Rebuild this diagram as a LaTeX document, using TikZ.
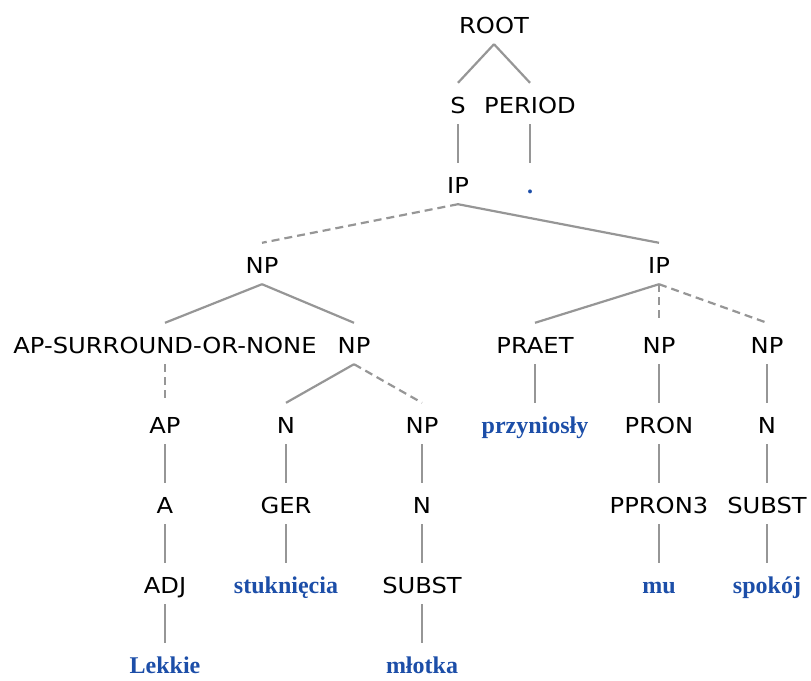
\documentclass[tikz,border=0pt]{standalone}
\usepackage{fontspec}
\newfontfamily\labfont[FakeStretch=1.1]{DejaVu Sans}
\newfontfamily\wordfont{Liberation Serif}
\definecolor{wordblue}{RGB}{28,78,168}
\definecolor{edgegray}{RGB}{150,150,150}
\begin{document}
\begin{tikzpicture}[x=1pt,y=-1pt,
  every node/.style={inner sep=0pt, anchor=base, text height=30pt, text depth=11pt},
  lab/.style={font=\labfont\fontsize{22}{24}\selectfont, text=black},
  wrd/.style={font=\wordfont\bfseries\fontsize{24}{26}\selectfont, text=wordblue},
  edge/.style={draw=edgegray, line width=2.2pt},
  dedge/.style={edge, dash pattern=on 8pt off 5pt}]
\useasboundingbox (0,0) rectangle (811,680);
% level 0
\node[lab] (root) at (494,33) {ROOT};
% level 1
\node[lab] (s) at (458,113) {S};
\node[lab] (period) at (530,113) {PERIOD};
% level 2
\node[lab] (ip1) at (458,193) {IP};
\node[wrd] (dot) at (530,193) {.};
% level 3
\node[lab] (np1) at (262,273) {NP};
\node[lab] (ip2) at (659,273) {IP};
% level 4
\node[lab] (aps) at (165,353) {AP-SURROUND-OR-NONE};
\node[lab] (np2) at (354,353) {NP};
\node[lab] (praet) at (535,353) {PRAET};
\node[lab] (np3) at (659,353) {NP};
\node[lab] (np4) at (767,353) {NP};
% level 5
\node[lab] (ap) at (165,433) {AP};
\node[lab] (n1) at (286,433) {N};
\node[lab] (np5) at (422,433) {NP};
\node[wrd] (przy) at (535,433) {przyniosły};
\node[lab] (pron) at (659,433) {PRON};
\node[lab] (n2) at (767,433) {N};
% level 6
\node[lab] (a) at (165,513) {A};
\node[lab] (ger) at (286,513) {GER};
\node[lab] (n3) at (422,513) {N};
\node[lab] (ppron) at (659,513) {PPRON3};
\node[lab] (subst1) at (767,513) {SUBST};
% level 7
\node[lab] (adj) at (165,593) {ADJ};
\node[wrd] (stuk) at (286,593) {stuknięcia};
\node[lab] (subst2) at (422,593) {SUBST};
\node[wrd] (mu) at (659,593) {mu};
\node[wrd] (spok) at (767,593) {spokój};
% level 8
\node[wrd] (lek) at (165,673) {Lekkie};
\node[wrd] (mlot) at (422,673) {młotka};
% edges
\draw[edge] (root.south) -- (s.north);
\draw[edge] (root.south) -- (period.north);
\draw[edge] (s.south) -- (ip1.north);
\draw[edge] (period.south) -- (dot.north);
\draw[dedge] (ip1.south) -- (np1.north);
\draw[edge] (ip1.south) -- (ip2.north);
\draw[edge] (np1.south) -- (aps.north);
\draw[edge] (np1.south) -- (np2.north);
\draw[edge] (ip2.south) -- (praet.north);
\draw[dedge] (ip2.south) -- (np3.north);
\draw[dedge] (ip2.south) -- (np4.north);
\draw[dedge] (aps.south) -- (ap.north);
\draw[edge] (np2.south) -- (n1.north);
\draw[dedge] (np2.south) -- (np5.north);
\draw[edge] (praet.south) -- (przy.north);
\draw[edge] (np3.south) -- (pron.north);
\draw[edge] (np4.south) -- (n2.north);
\draw[edge] (ap.south) -- (a.north);
\draw[edge] (n1.south) -- (ger.north);
\draw[edge] (np5.south) -- (n3.north);
\draw[edge] (pron.south) -- (ppron.north);
\draw[edge] (n2.south) -- (subst1.north);
\draw[edge] (a.south) -- (adj.north);
\draw[edge] (ger.south) -- (stuk.north);
\draw[edge] (n3.south) -- (subst2.north);
\draw[edge] (ppron.south) -- (mu.north);
\draw[edge] (subst1.south) -- (spok.north);
\draw[edge] (adj.south) -- (lek.north);
\draw[edge] (subst2.south) -- (mlot.north);
\end{tikzpicture}
\end{document}
